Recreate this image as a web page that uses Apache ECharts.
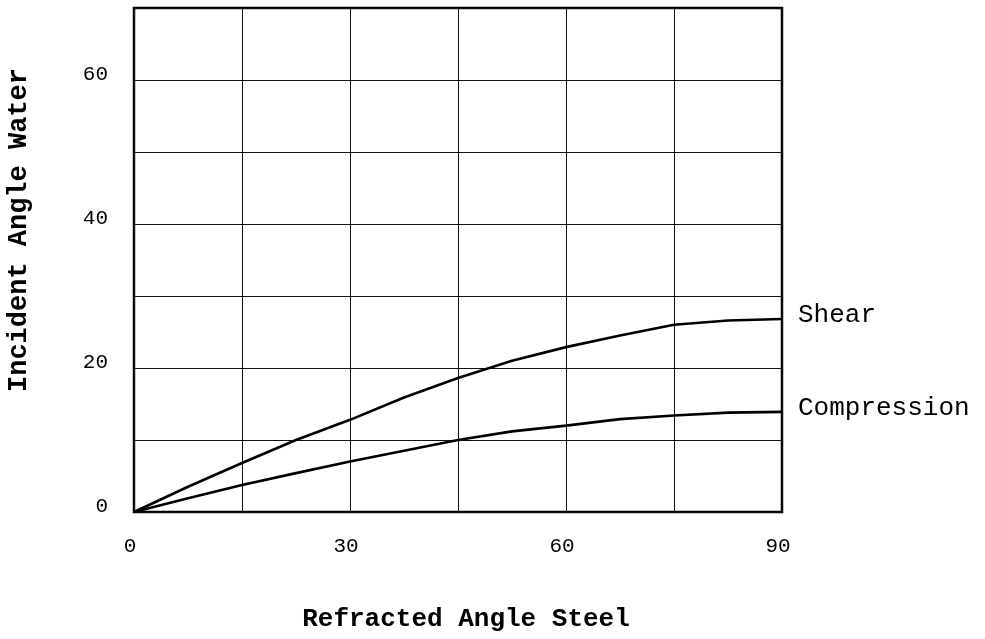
<!DOCTYPE html>
<html>
<head>
<meta charset="utf-8">
<script src="https://cdn.jsdelivr.net/npm/echarts@6/dist/echarts.min.js"></script>
<style>
  html, body { margin: 0; padding: 0; background: #fff; }
  #chart { width: 985px; height: 639px; }
</style>
</head>
<body>
<div id="chart"></div>
<script>
// Refracted angle in steel (degrees)
const refractedAngle = [0, 7.5, 15, 22.5, 30, 37.5, 45, 52.5, 60, 67.5, 75, 82.5, 90];
// Incident angle in water for shear and compression waves (degrees)
const shearAngle       = [0, 3.5, 6.8, 10.0, 12.8, 15.9, 18.6, 21.0, 22.9, 24.5, 26.0, 26.6, 26.8];
const compressionAngle = [0, 1.9, 3.75, 5.4, 7.0, 8.5, 10.0, 11.2, 12.0, 12.9, 13.4, 13.8, 13.9];
// Axis ranges and label steps
const xTicks = { min: 0, max: 90, grid: 15, label: 30 };
const yTicks = { min: 0, max: 70, grid: 10, label: 20 };
const seriesNames = ['Shear', 'Compression'];

const FONT = '"Courier New", "Liberation Mono", monospace';

const pairs = (ys) => refractedAngle.map((x, i) => [x, ys[i]]);

const chart = echarts.init(document.getElementById('chart'));

const lineSeries = (name, values) => ({
  name,
  type: 'line',
  data: pairs(values),
  showSymbol: false,
  smooth: false,
  lineStyle: { color: '#000', width: 2.6 },
  endLabel: {
    show: true,
    formatter: '{a}',
    distance: 16,
    offset: [0, -4],
    color: '#000',
    fontFamily: FONT,
    fontSize: 26
  },
  z: 5
});

chart.setOption({
  animation: false,
  backgroundColor: '#fff',
  grid: { left: 134, top: 8, right: 203, bottom: 127, containLabel: false,
          show: true, borderColor: '#000', borderWidth: 2.5 },
  xAxis: {
    type: 'value',
    min: xTicks.min, max: xTicks.max, interval: xTicks.grid,
    axisLine: { show: false },
    axisTick: { show: false },
    splitLine: { show: true, lineStyle: { color: '#111', width: 1 } },
    axisLabel: {
      color: '#000', fontFamily: FONT, fontSize: 21, margin: 24,
      padding: [0, 8, 0, 0],
      formatter: (v) => (v % xTicks.label === 0 ? String(v) : '')
    }
  },
  yAxis: {
    type: 'value',
    min: yTicks.min, max: yTicks.max, interval: yTicks.grid,
    axisLine: { show: false },
    axisTick: { show: false },
    splitLine: { show: true, lineStyle: { color: '#111', width: 1 } },
    axisLabel: {
      color: '#000', fontFamily: FONT, fontSize: 21, margin: 26,
      verticalAlign: 'bottom', lineHeight: 11,
      formatter: (v) => (v % yTicks.label === 0 ? String(v) : '')
    }
  },
  graphic: [
    {
      type: 'text',
      x: 466, y: 619,
      style: {
        text: 'Refracted Angle Steel',
        fill: '#000',
        font: 'bold 26px ' + FONT,
        textAlign: 'center',
        textVerticalAlign: 'middle'
      }
    },
    {
      type: 'text',
      x: 19, y: 230,
      rotation: Math.PI / 2,
      style: {
        text: 'Incident Angle Water',
        fill: '#000',
        font: 'bold 27px ' + FONT,
        textAlign: 'center',
        textVerticalAlign: 'middle'
      }
    }
  ],
  series: [
    lineSeries(seriesNames[0], shearAngle),
    lineSeries(seriesNames[1], compressionAngle)
  ]
});
</script>
</body>
</html>
